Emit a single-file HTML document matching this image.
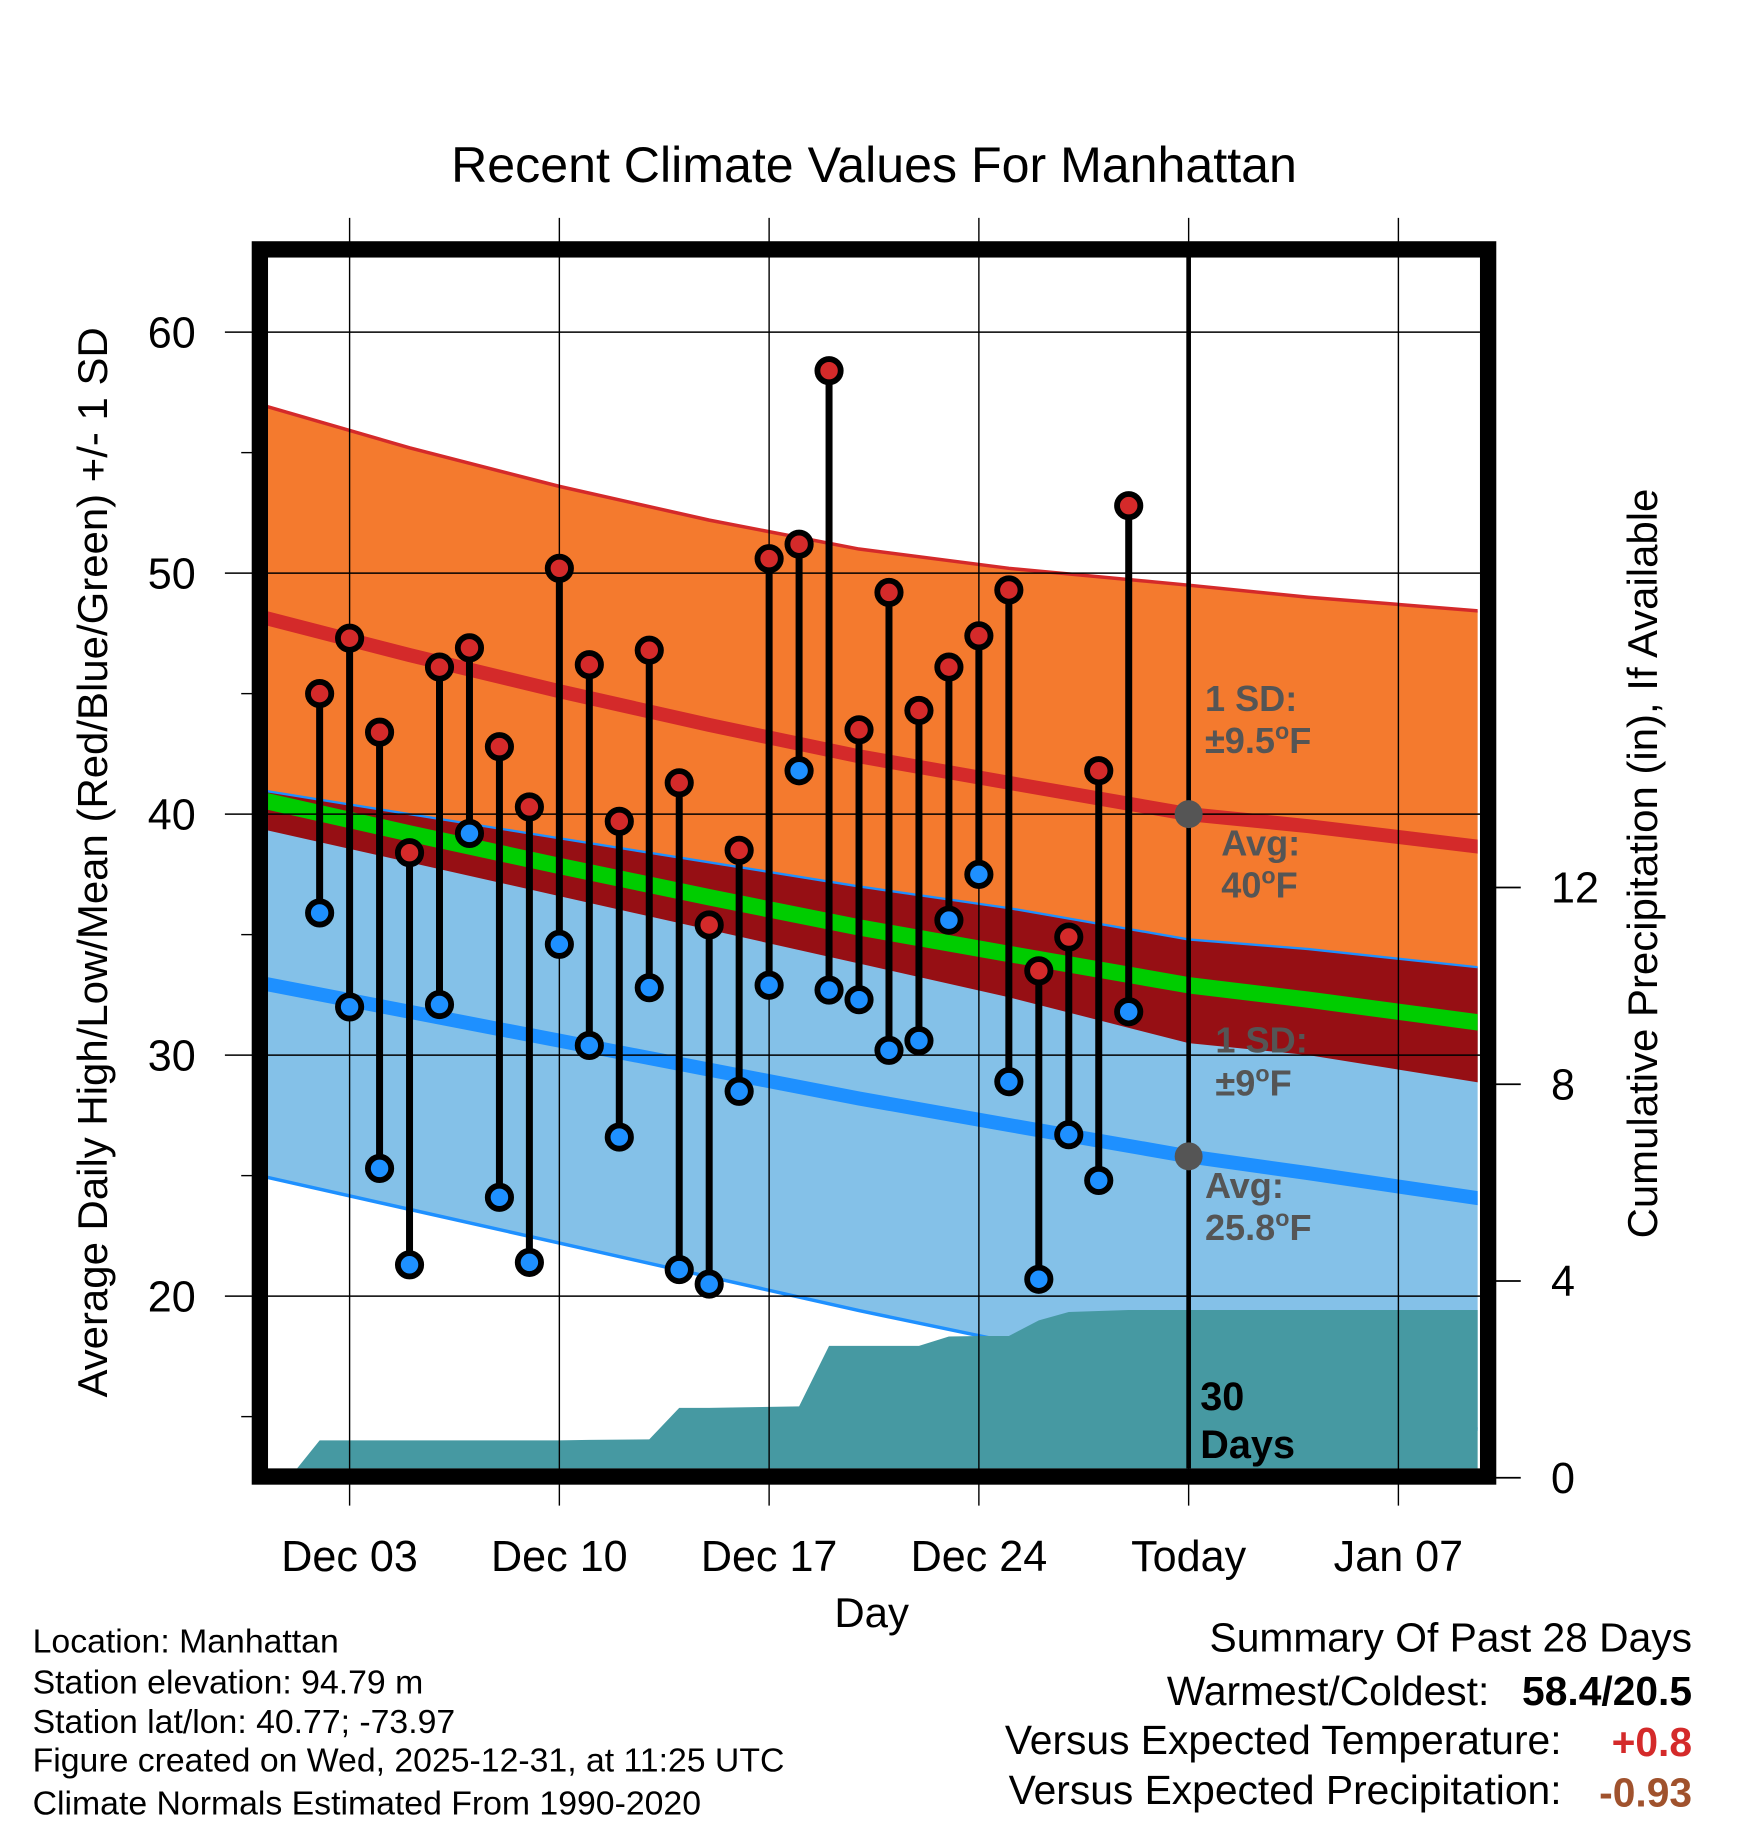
<!DOCTYPE html>
<html><head><meta charset="utf-8"><style>
html,body{margin:0;padding:0;background:#fff}
svg{display:block;font-family:"Liberation Sans",Arial,sans-serif}
</style></head><body>
<svg id="chart" width="1748" height="1828" viewBox="0 0 1500 1568.6" preserveAspectRatio="none" xmlns="http://www.w3.org/2000/svg">
<defs><clipPath id="plotclip"><rect x="230" y="220" width="1038" height="1040"/></clipPath></defs>
<text x="750" y="156" font-size="43" text-anchor="middle">Recent Climate Values For Manhattan</text>
<g id="bands" clip-path="url(#plotclip)"></g>
<g id="grid"></g>
<g id="marks"></g>
<rect x="223" y="214" width="1054" height="1053" fill="none" stroke="#000" stroke-width="14"/>
<g id="labels"></g>
<text x="748" y="1396" font-size="36" text-anchor="middle">Day</text>
<text transform="translate(92,740) rotate(-90)" font-size="36" text-anchor="middle">Average Daily High/Low/Mean (Red/Blue/Green) +/- 1 SD</text>
<text transform="translate(1422,741) rotate(-90)" font-size="36" text-anchor="middle">Cumulative Precipitation (in), If Available</text>
<g font-size="31" font-weight="bold" fill="#555">
<text x="1034" y="610">1 SD:</text><text x="1034" y="646">±9.5<tspan font-size="20" dy="-12">o</tspan><tspan dy="12">F</tspan></text>
<text x="1048" y="734">Avg:</text><text x="1048" y="770">40<tspan font-size="20" dy="-12">o</tspan><tspan dy="12">F</tspan></text>
<text x="1043" y="903">1 SD:</text><text x="1043" y="940">±9<tspan font-size="20" dy="-12">o</tspan><tspan dy="12">F</tspan></text>
<text x="1034" y="1028">Avg:</text><text x="1034" y="1064">25.8<tspan font-size="20" dy="-12">o</tspan><tspan dy="12">F</tspan></text>
</g>
<g font-size="34" font-weight="bold" fill="#000">
<text x="1030" y="1210">30</text><text x="1030" y="1251">Days</text></g>
<g font-size="29">
<text x="28" y="1418">Location: Manhattan</text>
<text x="28" y="1453">Station elevation: 94.79 m</text>
<text x="28" y="1487">Station lat/lon: 40.77; -73.97</text>
<text x="28" y="1520">Figure created on Wed, 2025-12-31, at 11:25 UTC</text>
<text x="28" y="1557">Climate Normals Estimated From 1990-2020</text>
</g>
<g font-size="35" text-anchor="end">
<text x="1452" y="1417">Summary Of Past 28 Days</text>
<text x="1278" y="1463">Warmest/Coldest:</text><text x="1452" y="1463" font-weight="bold">58.4/20.5</text>
<text x="1340" y="1505">Versus Expected Temperature:</text><text x="1452" y="1507" font-weight="bold" fill="#d42a2a">+0.8</text>
<text x="1340" y="1548">Versus Expected Precipitation:</text><text x="1452" y="1550" font-weight="bold" fill="#a0522d">-0.93</text>
</g>
</svg>
<script>
const obsDays=[2,3,4,5,6,7,8,9,10,11,12,13,14,15,16,17,18,19,20,21,22,23,24,25,26,27,28,29];
const highs=[45.0,47.3,43.4,38.4,46.1,46.9,42.8,40.3,50.2,46.2,39.7,46.8,41.3,35.4,38.5,50.6,51.2,58.4,43.5,49.2,44.3,46.1,47.4,49.3,33.5,34.9,41.8,52.8];
const lows=[35.9,32.0,25.3,21.3,32.1,39.2,24.1,21.4,34.6,30.4,26.6,32.8,21.1,20.5,28.5,32.9,41.8,32.7,32.3,30.2,30.6,35.6,37.5,28.9,20.7,26.7,24.8,31.8];
const precip=[0,0.76,0.76,0.76,0.76,0.76,0.76,0.76,0.76,0.76,0.77,0.78,1.42,1.42,1.43,1.44,1.45,2.68,2.68,2.68,2.68,2.87,2.88,2.88,3.2,3.37,3.39,3.41];
const precipDays=[1,2,3,4,5,6,7,8,9,10,11,13,14,15,16,17,18,19,20,21,22,23,24,25,26,27,28,29];
const normDays=[0,5,10,15,20,25,31,35,41];
const avgHigh=[48.2,46.6,45.1,43.7,42.4,41.3,40.0,39.5,38.6];
const sdHigh=[8.8,8.6,8.5,8.5,8.6,8.9,9.5,9.5,9.8];
const avgLow=[33.0,31.8,30.6,29.4,28.2,27.1,25.8,25.1,24.0];
const sdLow=[8.0,8.2,8.4,8.6,8.8,9.0,9.0,9.3,9.6];
const yTicks=[20,30,40,50,60];
const yMinor=[15,25,35,45,55];
const pTicks=[0,4,8,12];
const xTickDays=[3,10,17,24,31,38];
const xTickLabels=["Dec 03","Dec 10","Dec 17","Dec 24","Today","Jan 07"];
const todayDay=31;

const NS="http://www.w3.org/2000/svg";
const xd=d=>300+(d-3)*180/7;
const yv=v=>285+(60-v)*20.68;
const yp=p=>1268-p*42.2;
function mk(tag,attrs,parent){const e=document.createElementNS(NS,tag);for(const k in attrs)e.setAttribute(k,attrs[k]);parent.appendChild(e);return e;}
const bands=document.getElementById('bands'),grid=document.getElementById('grid'),marks=document.getElementById('marks'),labels=document.getElementById('labels');
const line=arr=>normDays.map((d,i)=>xd(d)+','+yv(arr[i]));
const hiUp=avgHigh.map((v,i)=>v+sdHigh[i]),hiDn=avgHigh.map((v,i)=>v-sdHigh[i]);
const loUp=avgLow.map((v,i)=>v+sdLow[i]),loDn=avgLow.map((v,i)=>v-sdLow[i]);
const mean=avgHigh.map((v,i)=>(v+avgLow[i])/2);
function band(a,b,fill,name){const p=mk('polygon',{points:line(a).concat(line(b).reverse()).join(' '),fill:fill},bands);
}
band(hiUp,hiDn,'#f47a2e','high-sd-band');
band(loUp,loDn,'#84c1e8','low-sd-band');
band(loUp,hiDn,'#960f14','overlap-band');
function pl(arr,stroke,w,name){const p=mk('polyline',{points:line(arr).join(' '),fill:'none',stroke:stroke,'stroke-width':w,'stroke-linejoin':'round'},bands);
}
pl(hiUp,'#d42a2a',3,'high-sd-upper');
pl(loUp,'#1e90ff',2,'low-sd-upper');
pl(loDn,'#1e90ff',3,'low-sd-lower');
pl(avgHigh,'#d42a2a',12,'avg-high-line');
pl(mean,'#00cc00',14,'mean-line');
pl(avgLow,'#1e90ff',12,'avg-low-line');
let pts=[xd(precipDays[0])+6+','+1270];
precipDays.forEach((d,i)=>pts.push(xd(d)+','+yp(precip[i])));
pts.push('1270,'+yp(precip[precip.length-1]),'1270,1270');
const pa=mk('polygon',{points:pts.join(' '),fill:'#4699a2'},bands);


yTicks.forEach(v=>{const l=mk('line',{x1:193,x2:1270,y1:yv(v),y2:yv(v),stroke:'#000','stroke-width':1.2},grid);

const t=mk('text',{x:168,y:yv(v)+13,'font-size':37,'text-anchor':'end'},labels);t.textContent=v;
});
yMinor.forEach(v=>{const l=mk('line',{x1:207,x2:218,y1:yv(v),y2:yv(v),stroke:'#000','stroke-width':1.2},grid);
});
pTicks.forEach(p=>{const l=mk('line',{x1:1280,x2:1305,y1:yp(p),y2:yp(p),stroke:'#000','stroke-width':1.5},grid);

const t=mk('text',{x:1331,y:yp(p)+13,'font-size':37},labels);t.textContent=p;
});
xTickDays.forEach((d,i)=>{
const l=mk('line',{x1:xd(d),x2:xd(d),y1:187,y2:1292,stroke:'#000','stroke-width':1.2},grid);

const t=mk('text',{x:xd(d),y:1348,'font-size':37,'text-anchor':'middle'},labels);t.textContent=xTickLabels[i];
});
const tl=mk('line',{x1:xd(todayDay),x2:xd(todayDay),y1:220,y2:1260,stroke:'#000','stroke-width':4},marks);


const ti=normDays.indexOf(todayDay);
[avgHigh[ti],avgLow[ti]].forEach(v=>{const c=mk('circle',{cx:xd(todayDay),cy:yv(v),r:12,fill:'#555'},marks);
});
obsDays.forEach((d,i)=>{
const s=mk('line',{x1:xd(d),x2:xd(d),y1:yv(highs[i]),y2:yv(lows[i]),stroke:'#000','stroke-width':6},marks);
});
obsDays.forEach((d,i)=>{
const h=mk('circle',{cx:xd(d),cy:yv(highs[i]),r:10,fill:'#d42a2a',stroke:'#000','stroke-width':5},marks);

const l=mk('circle',{cx:xd(d),cy:yv(lows[i]),r:10,fill:'#1e90ff',stroke:'#000','stroke-width':5},marks);
});
</script>
</body></html>
